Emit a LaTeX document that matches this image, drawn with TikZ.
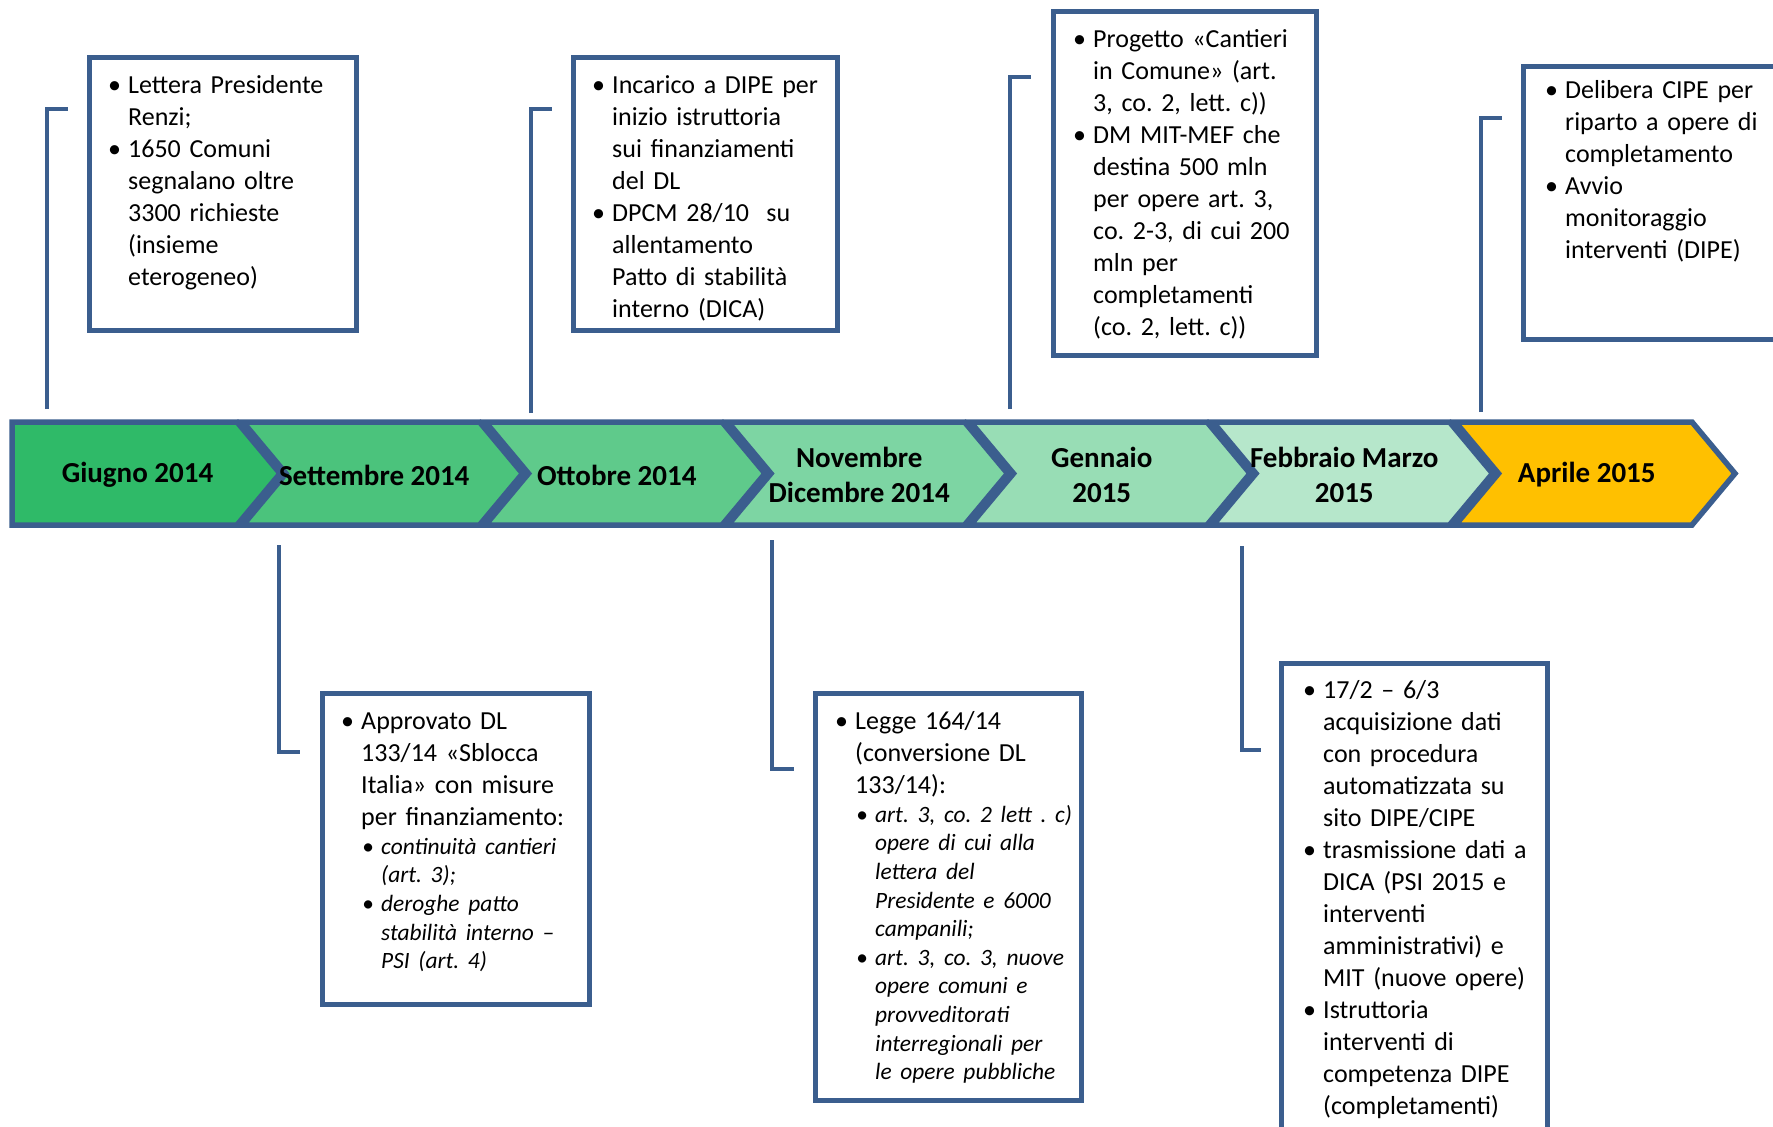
\documentclass[tikz,border=0pt]{standalone}
\usepackage{fontspec}
\setmainfont{Carlito}
\usepackage{xcolor}
\usepackage{tikz}
\usetikzlibrary{calc}
\definecolor{edge}{HTML}{3B5E8E}
\definecolor{gA}{HTML}{2FBA68}
\definecolor{gB}{HTML}{4BC37C}
\definecolor{gC}{HTML}{5FCA8B}
\definecolor{gD}{HTML}{7DD5A3}
\definecolor{gE}{HTML}{98DDB5}
\definecolor{gF}{HTML}{B6E7CB}
\definecolor{gold}{HTML}{FFC000}
\newcommand\notefont{\fontsize{26}{32}\selectfont\frenchspacing\setlength{\parindent}{0pt}\setlength{\parskip}{0pt}}
\tikzset{
  band/.style={draw=edge, line width=5.5pt, line join=miter},
  frame/.style={draw=edge, line width=5pt, inner sep=0pt, outer sep=0pt, anchor=north west},
  link/.style={draw=edge, line width=4.5pt},
  month/.style={font=\fontsize{29}{35}\selectfont\bfseries, align=center, inner sep=0pt},
  note/.style={anchor=north west, inner sep=0pt, text width=300pt, align=left, font=\notefont},
}
\newcommand\bl{\makebox[15pt][l]{\hspace*{-5pt}\textbullet}}
\newcommand\bi{\hspace*{15pt}}
\newcommand\sbl{\hspace*{20pt}\makebox[15pt][l]{\hspace*{-4pt}\textbullet}}
\newcommand\sbi{\hspace*{35pt}}
\newcommand\subtxt{\fontsize{23.4}{28.6}\selectfont\itshape}

\begin{document}
\begin{tikzpicture}[x=1pt, y=-1pt]
  \useasboundingbox (0,0) rectangle (1773,1127);

  % timeline arrows
  \foreach \i/\col/\txt [evaluate=\i as \xl using {\i==0 ? 12 : 243+242.5*(\i-1)},
                         evaluate=\i as \nd using {\i==0 ? 0 : 43},
                         evaluate=\i as \xr using {237+242.5*\i}] in
    {0/gA/{Giugno 2014}, 1/gB/{Settembre 2014}, 2/gC/{Ottobre 2014},
     3/gD/{Novembre\\Dicembre 2014}, 4/gE/{Gennaio\\2015},
     5/gF/{Febbraio Marzo\\2015}, 6/gold/{Aprile 2015}} {
    \filldraw[band, fill=\col] (\xl,422) -- (\xr,422) -- (\xr+43,473.5)
      -- (\xr,525) -- (\xl,525) -- (\xl+\nd,473.5) -- cycle;
    \node[month] (m\i) at ({(\xl+\xr)/2+13},475) {\txt};
  }

  % boxes
  \node[frame, minimum width=267, minimum height=273] (b1) at (89,57) {};
  \node[frame, minimum width=264, minimum height=273] (b2) at (573,57) {};
  \node[frame, minimum width=263, minimum height=344] (b3) at (1053,11) {};
  \node[frame, minimum width=267, minimum height=273] (b4) at (1523,66) {};
  \node[frame, minimum width=267, minimum height=311] (b5) at (322,693) {};
  \node[frame, minimum width=266, minimum height=407] (b6) at (815,693) {};
  \node[frame, minimum width=266, minimum height=477] (b7) at (1281,663) {};

  \node[note] (t1) at ($(b1.north west)+(24,14)$) {\strut
    \bl Lettera Presidente\\ \bi Renzi;\\ \bl 1650 Comuni\\ \bi segnalano oltre\\
    \bi 3300 richieste\\ \bi (insieme\\ \bi eterogeneo)};
  \node[note] (t2) at ($(b2.north west)+(24,14)$) {\strut
    \bl Incarico a DIPE per\\ \bi inizio istruttoria\\ \bi sui finanziamenti\\ \bi del DL\\
    \bl DPCM 28/10\ \ su\\ \bi allentamento\\ \bi Patto di stabilità\\ \bi interno (DICA)};
  \node[note] (t3) at ($(b3.north west)+(25,14)$) {\strut
    \bl Progetto «Cantieri\\ \bi in Comune» (art.\\ \bi 3, co. 2, lett. c))\\
    \bl DM MIT-MEF che\\ \bi destina 500 mln\\ \bi per opere art. 3,\\
    \bi co. 2-3, di cui 200\\ \bi mln per\\ \bi completamenti\\ \bi (co. 2, lett. c))};
  \node[note] (t4) at ($(b4.north west)+(27,10)$) {\strut
    \bl Delibera CIPE per\\ \bi riparto a opere di\\ \bi completamento\\
    \bl Avvio\\ \bi monitoraggio\\ \bi interventi (DIPE)};
  \node[note] (t5) at ($(b5.north west)+(24,14)$) {\strut
    \bl Approvato DL\\ \bi 133/14 «Sblocca\\ \bi Italia» con misure\\ \bi per finanziamento:\par
    {\subtxt \sbl continuità cantieri\\ \sbi (art. 3);\\ \sbl deroghe patto\\
    \sbi stabilità interno –\\ \sbi PSI (art. 4)\par}};
  \node[note] (t6) at ($(b6.north west)+(25,14)$) {\strut
    \bl Legge 164/14\\ \bi (conversione DL\\ \bi 133/14):\par
    {\subtxt \sbl art. 3, co. 2 lett . c)\\ \sbi opere di cui alla\\ \sbi lettera del\\
    \sbi Presidente e 6000\\ \sbi campanili;\\ \sbl art. 3, co. 3, nuove\\
    \sbi opere comuni e\\ \sbi provveditorati\\ \sbi interregionali per\\
    \sbi le opere pubbliche\par}};
  \node[note] (t7) at ($(b7.north west)+(27,13)$) {\strut
    \bl 17/2 – 6/3\\ \bi acquisizione dati\\ \bi con procedura\\ \bi automatizzata su\\
    \bi sito DIPE/CIPE\\ \bl trasmissione dati a\\ \bi DICA (PSI 2015 e\\ \bi interventi\\
    \bi amministrativi) e\\ \bi MIT (nuove opere)\\ \bl Istruttoria\\ \bi interventi di\\
    \bi competenza DIPE\\ \bi (completamenti)};

  % connectors
  \coordinate (c1a) at (47,409);   \coordinate (c1b) at (68,109);
  \coordinate (c2a) at (531,413);  \coordinate (c2b) at (552,109);
  \coordinate (c3a) at (1010,409); \coordinate (c3b) at (1031,77);
  \coordinate (c4a) at (1481,412); \coordinate (c4b) at (1502,118);
  \coordinate (c5a) at (279,545);  \coordinate (c5b) at (300,752);
  \coordinate (c6a) at (772,540);  \coordinate (c6b) at (794,769);
  \coordinate (c7a) at (1242,546); \coordinate (c7b) at (1261,750);
  \foreach \k in {1,...,7}
    \draw[link] (c\k a) |- (c\k b);
\end{tikzpicture}
\end{document}
